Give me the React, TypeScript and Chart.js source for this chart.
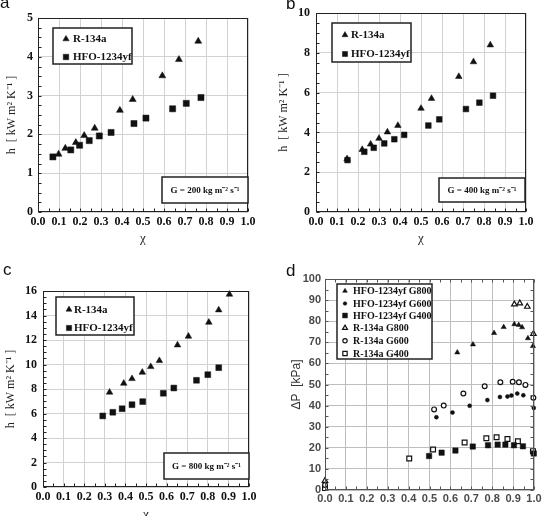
import React, { useEffect, useRef } from 'react';
import { Chart, registerables } from 'chart.js';

Chart.register(...registerables);

// ---------- Panel a : G = 200 ----------
const aR134aX = [0.098, 0.13, 0.18, 0.22, 0.27, 0.39, 0.451, 0.592, 0.671, 0.763];
const aR134aY = [1.49, 1.64, 1.79, 1.97, 2.16, 2.62, 2.9, 3.51, 3.93, 4.4];
const aHfoX = [0.071, 0.156, 0.198, 0.244, 0.292, 0.348, 0.457, 0.514, 0.641, 0.706, 0.776];
const aHfoY = [1.42, 1.6, 1.72, 1.84, 1.96, 2.05, 2.28, 2.42, 2.66, 2.8, 2.95];

// ---------- Panel b : G = 400 ----------
const bR134aX = [0.148, 0.22, 0.26, 0.3, 0.34, 0.39, 0.5, 0.55, 0.68, 0.75, 0.83];
const bR134aY = [2.67, 3.14, 3.41, 3.7, 4.02, 4.35, 5.21, 5.71, 6.81, 7.55, 8.4];
const bHfoX = [0.15, 0.23, 0.275, 0.325, 0.373, 0.42, 0.535, 0.587, 0.714, 0.778, 0.843];
const bHfoY = [2.61, 3.03, 3.23, 3.45, 3.66, 3.88, 4.35, 4.66, 5.18, 5.5, 5.85];

// ---------- Panel c : G = 800 ----------
const cR134aX = [0.323, 0.392, 0.432, 0.482, 0.523, 0.565, 0.653, 0.706, 0.805, 0.853, 0.905];
const cR134aY = [7.73, 8.46, 8.84, 9.36, 9.82, 10.31, 11.59, 12.3, 13.44, 14.45, 15.73];
const cHfoX = [0.29, 0.339, 0.384, 0.432, 0.484, 0.584, 0.635, 0.745, 0.8, 0.853];
const cHfoY = [5.8, 6.1, 6.39, 6.72, 6.97, 7.65, 8.08, 8.71, 9.17, 9.74];

// ---------- Panel d : pressure drop ----------
const dHfoG800X = [0.633, 0.708, 0.809, 0.855, 0.906, 0.927, 0.943, 0.971, 0.995];
const dHfoG800Y = [65.2, 69.0, 74.4, 77.2, 78.6, 78.2, 77.1, 71.9, 68.2];
const dHfoG600X = [0.533, 0.61, 0.692, 0.777, 0.837, 0.873, 0.892, 0.92, 0.949, 0.999];
const dHfoG600Y = [34.5, 36.7, 39.9, 42.6, 44.1, 44.3, 44.8, 45.7, 44.9, 38.9];
const dHfoG400X = [0.498, 0.558, 0.624, 0.707, 0.78, 0.826, 0.863, 0.904, 0.947, 0.999];
const dHfoG400Y = [16.1, 17.7, 18.7, 20.6, 21.2, 21.5, 21.5, 21.2, 20.7, 17.3];
const dR134aG800X = [0.0, 0.906, 0.932, 0.968, 0.997];
const dR134aG800Y = [4.4, 88.0, 88.5, 86.9, 74.0];
const dR134aG600X = [0.0, 0.522, 0.568, 0.662, 0.764, 0.839, 0.898, 0.928, 0.959, 0.997];
const dR134aG600Y = [2.4, 38.2, 40.0, 45.7, 49.2, 51.1, 51.3, 51.1, 49.8, 43.7];
const dR134aG400X = [0.0, 0.403, 0.517, 0.668, 0.772, 0.821, 0.873, 0.923, 0.995];
const dR134aG400Y = [0.9, 14.9, 19.2, 22.5, 24.5, 25.0, 24.2, 23.1, 18.4];

// ---------- labels ----------
const labelR134a = 'R-134a';
const labelHfo = 'HFO-1234yf';
const dLabels = ['HFO-1234yf G800', 'HFO-1234yf G600', 'HFO-1234yf G400', 'R-134a G800', 'R-134a G600', 'R-134a G400'];
const hTitle = 'h  [ kW m\u00B2 K\u207B\u00B9 ]';
const dpTitle = '\u0394P  [kPa]';
const xTitle = '\u03C7';
const gTexts = ['G = 200 kg m\u207B\u00B2 s\u207B\u00B9', 'G = 400 kg m\u207B\u00B2 s\u207B\u00B9', 'G = 800 kg m\u207B\u00B2 s\u207B\u00B9'];

const SERIF = '"Liberation Serif", "Times New Roman", serif';
const SANS = '"Liberation Sans", Arial, sans-serif';
const INK = '#111';

function pts(xs: number[], ys: number[]) {
  return xs.map((x, i) => ({ x, y: ys[i] }));
}

function ds(label: string, xs: number[], ys: number[], style: string, r: number, filled: boolean) {
  return {
    label,
    data: pts(xs, ys),
    pointStyle: style,
    pointRadius: r,
    pointHoverRadius: r,
    backgroundColor: filled ? INK : '#fff',
    borderColor: INK,
    borderWidth: filled ? 0.5 : 1.2,
    showLine: false,
    clip: false,
  };
}

function drawMarker(ctx: CanvasRenderingContext2D, style: string, x: number, y: number, r: number, fill: string, stroke: string, bw: number) {
  ctx.beginPath();
  if (style === 'triangle') {
    let rad = 0;
    const T = (2 * Math.PI) / 3;
    ctx.moveTo(x + Math.sin(rad) * r, y - Math.cos(rad) * r);
    rad += T;
    ctx.lineTo(x + Math.sin(rad) * r, y - Math.cos(rad) * r);
    rad += T;
    ctx.lineTo(x + Math.sin(rad) * r, y - Math.cos(rad) * r);
    ctx.closePath();
  } else if (style === 'rect') {
    const s = Math.SQRT1_2 * r;
    ctx.rect(x - s, y - s, 2 * s, 2 * s);
  } else {
    ctx.arc(x, y, r, 0, Math.PI * 2);
  }
  ctx.fillStyle = fill;
  ctx.fill();
  if (bw > 0) {
    ctx.lineWidth = bw;
    ctx.strokeStyle = stroke;
    ctx.stroke();
  }
}

const decorPlugin = {
  id: 'decor',
  afterDraw(chart: any, _args: any, o: any) {
    const ctx: CanvasRenderingContext2D = chart.ctx;
    const ca = chart.chartArea;
    const xs = chart.scales.x;
    const ys = chart.scales.y;
    ctx.save();
    // minor ticks
    ctx.strokeStyle = o.frameColor;
    ctx.lineWidth = 1;
    ctx.beginPath();
    const L = Math.round(ca.left) + 0.5;
    const R = Math.round(ca.right) - 0.5;
    const T = Math.round(ca.top) + 0.5;
    const B = Math.round(ca.bottom) - 0.5;
    for (let v = 0; v <= xs.max + 1e-9; v += o.minorX) {
      const px = Math.round(xs.getPixelForValue(v)) + 0.5;
      ctx.moveTo(px, B);
      ctx.lineTo(px, B - o.tickLen);
      if (o.allSides) {
        ctx.moveTo(px, T);
        ctx.lineTo(px, T + o.tickLen);
      }
    }
    for (let v = 0; v <= ys.max + 1e-9; v += o.minorY) {
      const py = Math.round(ys.getPixelForValue(v)) + 0.5;
      ctx.moveTo(L, py);
      ctx.lineTo(L + o.tickLen, py);
      if (o.allSides) {
        ctx.moveTo(R, py);
        ctx.lineTo(R - o.tickLen, py);
      }
    }
    ctx.stroke();
    // frame
    ctx.lineWidth = 1;
    ctx.strokeRect(L, T, R - L, B - T);

    // legend box
    const lg = o.legend;
    ctx.fillStyle = '#fff';
    ctx.fillRect(lg.x, lg.y, lg.w, lg.h);
    ctx.lineWidth = 1.5;
    ctx.strokeStyle = '#222';
    ctx.strokeRect(lg.x, lg.y, lg.w, lg.h);
    ctx.font = lg.font;
    ctx.textBaseline = 'middle';
    ctx.textAlign = 'left';
    chart.data.datasets.forEach((d: any, i: number) => {
      const yy = lg.rows[i];
      drawMarker(ctx, d.pointStyle, lg.markX, yy, d.pointRadius * lg.markScale, d.backgroundColor, d.borderColor, d.borderWidth);
      ctx.fillStyle = INK;
      ctx.fillText(d.label, lg.textX, yy + 0.5);
    });

    // G box
    if (o.gbox) {
      const g = o.gbox;
      ctx.fillStyle = '#fff';
      ctx.fillRect(g.x, g.y, g.w, g.h);
      ctx.lineWidth = 1.5;
      ctx.strokeStyle = '#222';
      ctx.strokeRect(g.x, g.y, g.w, g.h);
      ctx.font = 'bold 9px ' + SERIF;
      ctx.fillStyle = INK;
      ctx.textAlign = 'center';
      ctx.textBaseline = 'middle';
      ctx.fillText(g.text, g.x + g.w / 2, g.y + g.h / 2 + 0.5);
    }

    // panel letter
    ctx.font = '17px ' + SANS;
    ctx.fillStyle = INK;
    ctx.textAlign = 'left';
    ctx.textBaseline = 'alphabetic';
    ctx.fillText(o.letter.text, o.letter.x, o.letter.y);
    ctx.restore();
  },
};

type Spec = {
  left: number; top: number; w: number; h: number;
  padL: number; padT: number; padR: number; padB: number;
  yW: number; xH: number;
  yMax: number; yStep: number;
  sans: boolean;
  yTitle: string; yTitlePad: number; yTickPad: number;
  xTitleOn: boolean; xTitlePadB: number; xTickPad: number;
  datasets: any[];
  decor: any;
};

function buildConfig(s: Spec): any {
  const tickFont = s.sans
    ? { family: SANS, size: 11, weight: 'bold' as const }
    : { family: SERIF, size: 12, weight: 'bold' as const };
  const tickColor = s.sans ? '#4a4a4a' : '#111';
  const gridColor = s.sans ? '#bdbdbd' : '#d2d2d2';
  return {
    type: 'scatter',
    data: { datasets: s.datasets },
    options: {
      animation: false,
      responsive: false,
      devicePixelRatio: 1,
      events: [],
      layout: { padding: { left: s.padL, top: s.padT, right: s.padR, bottom: s.padB } },
      plugins: {
        legend: { display: false },
        tooltip: { enabled: false },
        decor: s.decor,
      },
      scales: {
        x: {
          type: 'linear',
          min: 0,
          max: 1,
          afterFit: (sc: any) => { sc.height = s.xH; },
          ticks: {
            stepSize: 0.1,
            autoSkip: false,
            maxRotation: 0,
            minRotation: 0,
            padding: s.xTickPad,
            font: tickFont,
            color: tickColor,
            callback: (v: any) => Number(v).toFixed(1),
          },
          grid: { color: gridColor, drawTicks: false, lineWidth: 1 },
          border: { display: false },
          title: {
            display: s.xTitleOn,
            text: xTitle,
            font: { family: SERIF, size: 13 },
            color: '#222',
            padding: { top: 0, bottom: s.xTitlePadB },
          },
        },
        y: {
          type: 'linear',
          min: 0,
          max: s.yMax,
          afterFit: (sc: any) => { sc.width = s.yW; },
          ticks: {
            stepSize: s.yStep,
            autoSkip: false,
            padding: s.yTickPad,
            font: tickFont,
            color: tickColor,
          },
          grid: { color: gridColor, drawTicks: false, lineWidth: 1 },
          border: { display: false },
          title: {
            display: true,
            text: s.yTitle,
            font: s.sans ? { family: SANS, size: 12 } : { family: SERIF, size: 12 },
            color: s.sans ? '#333' : '#222',
            padding: { top: s.yTitlePad, bottom: 0 },
          },
        },
      },
    },
    plugins: [decorPlugin],
  };
}

const legendFontAC = 'bold 11px ' + SERIF;

const specs: Spec[] = [
  {
    left: 0, top: 0, w: 271, h: 258,
    padL: 0, padT: 18, padR: 23, padB: 0, yW: 38, xH: 46,
    yMax: 5, yStep: 1, sans: false,
    yTitle: hTitle, yTitlePad: 4.8, yTickPad: 5,
    xTitleOn: true, xTitlePadB: 12, xTickPad: 3,
    datasets: [
      ds(labelR134a, aR134aX, aR134aY, 'triangle', 4.0, true),
      ds(labelHfo, aHfoX, aHfoY, 'rect', 4.3, true),
    ],
    decor: {
      frameColor: '#222', minorX: 0.05, minorY: 0.25, tickLen: 3, allSides: false,
      legend: { x: 53, y: 28, w: 79, h: 36, rows: [39, 57], markX: 66, textX: 73, font: legendFontAC, markScale: 0.9 },
      gbox: { x: 162, y: 177, w: 86, h: 26, text: gTexts[0] },
      letter: { text: 'a', x: 0, y: 8 },
    },
  },
  {
    left: 271, top: 0, w: 271, h: 258,
    padL: 0, padT: 13, padR: 16, padB: 0, yW: 45, xH: 46,
    yMax: 10, yStep: 2, sans: false,
    yTitle: hTitle, yTitlePad: 6, yTickPad: 6,
    xTitleOn: true, xTitlePadB: 12, xTickPad: 3,
    datasets: [
      ds(labelR134a, bR134aX, bR134aY, 'triangle', 3.8, true),
      ds(labelHfo, bHfoX, bHfoY, 'rect', 4.0, true),
    ],
    decor: {
      frameColor: '#222', minorX: 0.05, minorY: 0.5, tickLen: 3, allSides: false,
      legend: { x: 61, y: 23, w: 79, h: 39, rows: [35, 54], markX: 74, textX: 80, font: legendFontAC, markScale: 0.9 },
      gbox: { x: 168, y: 178, w: 86, h: 24, text: gTexts[1] },
      letter: { text: 'b', x: 15, y: 9 },
    },
  },
  {
    left: 0, top: 258, w: 271, h: 280,
    padL: 0, padT: 33, padR: 22, padB: 0, yW: 43, xH: 51,
    yMax: 16, yStep: 2, sans: false,
    yTitle: hTitle, yTitlePad: 3.8, yTickPad: 6,
    xTitleOn: true, xTitlePadB: 15.5, xTickPad: 3,
    datasets: [
      ds(labelR134a, cR134aX, cR134aY, 'triangle', 3.8, true),
      ds(labelHfo, cHfoX, cHfoY, 'rect', 4.1, true),
    ],
    decor: {
      frameColor: '#222', minorX: 0.05, minorY: 0.5, tickLen: 3, allSides: false,
      legend: { x: 56, y: 39, w: 78, h: 38, rows: [51.5, 70], markX: 69, textX: 74, font: legendFontAC, markScale: 0.9 },
      gbox: { x: 164, y: 195, w: 85, h: 26, text: gTexts[2] },
      letter: { text: 'c', x: 3, y: 17 },
    },
  },
  {
    left: 271, top: 258, w: 300, h: 258,
    padL: 0, padT: 21, padR: 37, padB: 0, yW: 54, xH: 26,
    yMax: 100, yStep: 10, sans: true,
    yTitle: dpTitle, yTitlePad: 18.8, yTickPad: 4,
    xTitleOn: false, xTitlePadB: 0, xTickPad: 2,
    datasets: [
      ds(dLabels[0], dHfoG800X, dHfoG800Y, 'triangle', 3.0, true),
      ds(dLabels[1], dHfoG600X, dHfoG600Y, 'circle', 2.0, true),
      ds(dLabels[2], dHfoG400X, dHfoG400Y, 'rect', 3.8, true),
      ds(dLabels[3], dR134aG800X, dR134aG800Y, 'triangle', 3.2, false),
      ds(dLabels[4], dR134aG600X, dR134aG600Y, 'circle', 2.4, false),
      ds(dLabels[5], dR134aG400X, dR134aG400Y, 'rect', 3.4, false),
    ],
    decor: {
      frameColor: '#555', minorX: 0.05, minorY: 5, tickLen: 3, allSides: true,
      legend: { x: 66, y: 26, w: 95, h: 75, rows: [33, 45.5, 57.5, 70, 82.7, 95.5], markX: 74, textX: 82, font: 'bold 10px ' + SERIF, markScale: 0.9 },
      gbox: null,
      letter: { text: 'd', x: 15, y: 18 },
    },
  },
];

function Panel({ spec }: { spec: Spec }) {
  const ref = useRef<HTMLCanvasElement>(null);
  useEffect(() => {
    if (!ref.current) return;
    const chart = new Chart(ref.current, buildConfig(spec));
    return () => chart.destroy();
  }, [spec]);
  return (
    <canvas
      ref={ref}
      width={spec.w}
      height={spec.h}
      style={{ position: 'absolute', left: spec.left, top: spec.top, width: spec.w, height: spec.h }}
    />
  );
}

export default function App() {
  return (
    <div style={{ position: 'absolute', left: 0, top: 0, width: 542, height: 516, overflow: 'hidden', background: '#fff' }}>
      {specs.map((s, i) => (
        <Panel key={i} spec={s} />
      ))}
    </div>
  );
}
